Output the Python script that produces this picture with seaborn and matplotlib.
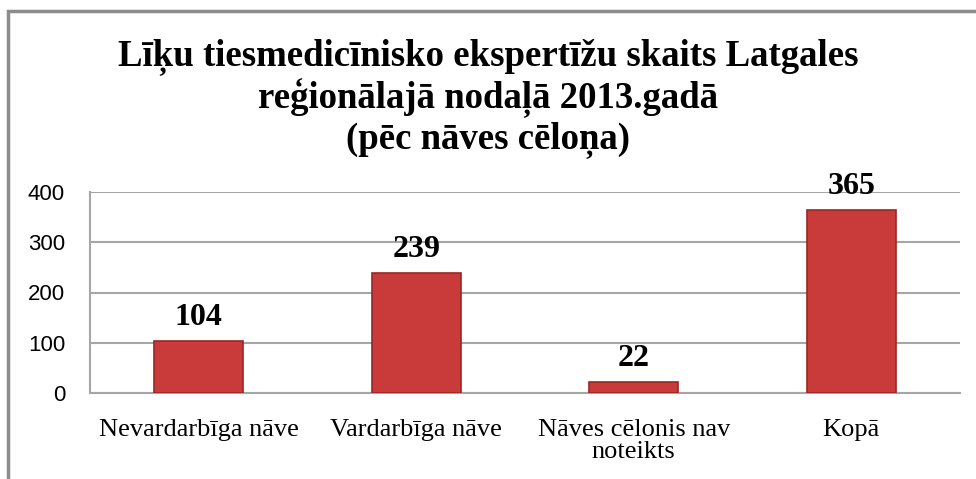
import matplotlib
matplotlib.use("Agg")
import matplotlib.pyplot as plt
import seaborn as sns
from matplotlib.patches import Rectangle

# dati no attela
kategorijas = ["Nevardarbīga nāve", "Vardarbīga nāve", "Nāves cēlonis nav\nnoteikts", "Kopā"]
skaits = [104, 239, 22, 365]
y_ticks = [0, 100, 200, 300, 400]
virsraksts = "Līķu tiesmedicīnisko ekspertīžu skaits Latgales\nreģionālajā nodaļā 2013.gadā\n(pēc nāves cēloņa)"

sns.set_style("white")
plt.rcParams["font.family"] = ["Liberation Serif", "DejaVu Serif"]
plt.rcParams["text.color"] = "black"
plt.rcParams["xtick.color"] = "black"
plt.rcParams["ytick.color"] = "black"

fig = plt.figure(figsize=(9.76, 4.79), dpi=100)
ax = fig.add_axes([90 / 976, 86 / 479, 870 / 976, 201 / 479])

sns.barplot(x=kategorijas, y=skaits, color="#C93A3A", saturation=1, width=0.41,
            edgecolor="#9C2525", linewidth=1.2, ax=ax, zorder=3)

ax.set_ylim(0, 400)
ax.set_yticks(y_ticks)
ax.yaxis.grid(True, color="#A6A6A6", linewidth=1.5, zorder=0)
ax.set_axisbelow(True)
for s in ["top", "right"]:
    ax.spines[s].set_visible(False)
for s in ["left", "bottom"]:
    ax.spines[s].set_color("#A6A6A6")
    ax.spines[s].set_linewidth(1.5)

ax.tick_params(axis="y", length=0, pad=18, labelsize=16, labelcolor="black")
for lab in ax.get_yticklabels():
    lab.set_family(["Liberation Sans", "DejaVu Sans"])
ax.tick_params(axis="x", length=0, pad=19, labelsize=19, labelcolor="black")
for lab in ax.get_xticklabels():
    lab.set_linespacing(0.95)
ax.set_xlabel("")
ax.set_ylabel("")

# vertibas virs stabiem
for i, v in enumerate(skaits):
    ax.text(i, v + 18, str(v), ha="center", va="bottom", fontsize=23, fontweight="bold",
            color="black")

fig.text(0.5, 1 - 98 / 479, virsraksts, ha="center", va="center", fontsize=26.5,
         fontweight="bold", linespacing=1.1, color="black")

# diagrammas ramis
fig.add_artist(Rectangle((8 / 976, -0.2), 1.2, 1.2 - 11 / 479, transform=fig.transFigure,
                         fill=False, edgecolor="#8C8C8C", linewidth=2.5))

fig.savefig("out.png", dpi=100)
